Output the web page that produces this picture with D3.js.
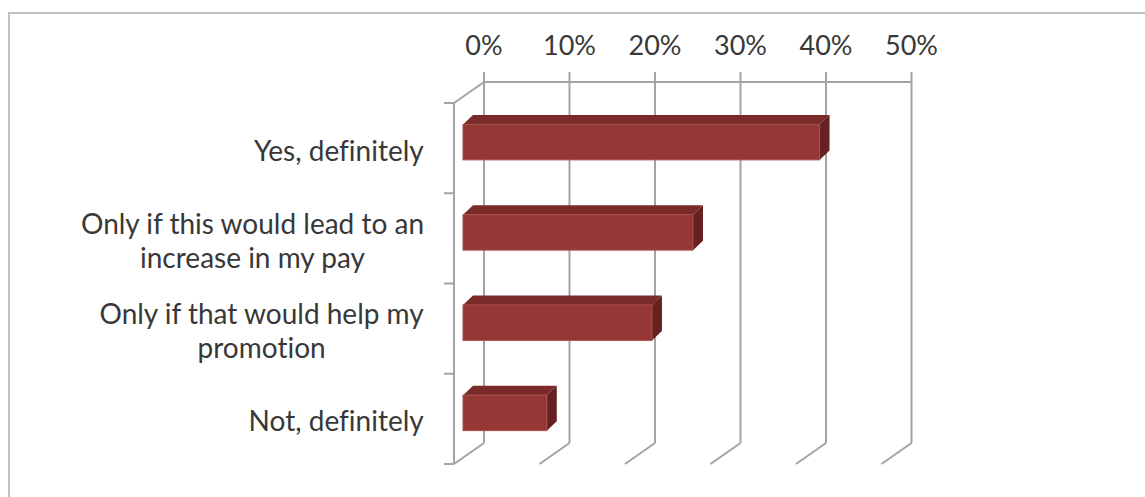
<!DOCTYPE html>
<html>
<head>
<meta charset="utf-8">
<script src="https://cdn.jsdelivr.net/npm/d3@7"></script>
<style>
  html, body { margin: 0; padding: 0; background: #fff; }
  svg { display: block; }
  text { font-family: Lato, "Open Sans", "DejaVu Sans", sans-serif; fill: #383838;
         font-variant-ligatures: none; font-feature-settings: "liga" 0, "clig" 0; }
</style>
</head>
<body>
<svg id="chart" width="1145" height="497"></svg>
<script>
// ---- data ----
const categories = [
  ["Yes, definitely"],
  ["Only if this would lead to an", "increase in my pay"],
  ["Only if that would help my", "promotion"],
  ["Not, definitely"]
];
const values = [41.7, 26.9, 22.1, 9.8];
const tickValues = [0, 10, 20, 30, 40, 50];
const tickLabels = ["0%", "10%", "20%", "30%", "40%", "50%"];

// ---- layout ----
const svg = d3.select("#chart");
const W = 1145, H = 497;

// outer chart border (extends beyond right/bottom edges)
svg.append("rect")
  .attr("x", 9).attr("y", 13)
  .attr("width", W + 20).attr("height", H + 20)
  .attr("fill", "none").attr("stroke", "#c0c0c0").attr("stroke-width", 2);

// 3D geometry
const depthDX = 30, depthDY = -21;         // front -> back wall offset
const backTop = 82, backBottom = 443;
const frontTop = backTop - depthDY, frontBottom = backBottom - depthDY;
const frontX0 = 454;
const backX0 = frontX0 + depthDX;
const pxPer10 = 85.5;

const xBack = d3.scaleLinear().domain([0, 50]).range([backX0, backX0 + 5 * pxPer10]);
const barFront0 = 463;
const xBar = d3.scaleLinear().domain([0, 50]).range([barFront0, barFront0 + 5 * pxPer10]);

const yBand = d3.scaleBand()
  .domain(d3.range(categories.length))
  .range([frontTop, frontBottom]);

const gridColor = "#a3a3a3";

// back-wall gridlines (with small ticks above the top edge)
const grid = svg.append("g");
grid.selectAll("line.v").data(tickValues).enter().append("line")
  .attr("x1", d => xBack(d)).attr("x2", d => xBack(d))
  .attr("y1", backTop - 10).attr("y2", backBottom)
  .attr("stroke", gridColor).attr("stroke-width", 2);
// top edge of back wall
grid.append("line")
  .attr("x1", xBack(0)).attr("x2", xBack(50))
  .attr("y1", backTop).attr("y2", backTop)
  .attr("stroke", gridColor).attr("stroke-width", 2);
// floor diagonals at the bottom
grid.selectAll("line.d").data(tickValues).enter().append("line")
  .attr("x1", d => xBack(d)).attr("y1", backBottom)
  .attr("x2", d => xBack(d) - depthDX).attr("y2", backBottom - depthDY)
  .attr("stroke", gridColor).attr("stroke-width", 2);
// top diagonal of side wall
grid.append("line")
  .attr("x1", xBack(0)).attr("y1", backTop)
  .attr("x2", frontX0).attr("y2", frontTop)
  .attr("stroke", gridColor).attr("stroke-width", 2);
// front category axis
grid.append("line")
  .attr("x1", frontX0).attr("x2", frontX0)
  .attr("y1", frontTop).attr("y2", frontBottom)
  .attr("stroke", gridColor).attr("stroke-width", 2);
// category tick marks
const catTicks = d3.range(categories.length + 1).map(i => frontTop + i * yBand.step());
grid.selectAll("line.ct").data(catTicks).enter().append("line")
  .attr("x1", frontX0 - 10).attr("x2", frontX0)
  .attr("y1", d => d).attr("y2", d => d)
  .attr("stroke", gridColor).attr("stroke-width", 2);

// top value labels
svg.append("g").selectAll("text").data(tickValues).enter().append("text")
  .attr("x", d => xBack(d)).attr("y", 55)
  .attr("text-anchor", "middle")
  .attr("font-size", 27)
  .text((d, i) => tickLabels[i]);

// bars (3D boxes)
const barH = 35.5, bdx = 10, bdy = -9.5;
const barY = i => yBand(i) + yBand.bandwidth() / 2 - 6 - barH / 2;
const bars = svg.append("g");
values.forEach((v, i) => {
  const x0 = xBar(0), x1 = xBar(v), y0 = barY(i), y1 = y0 + barH;
  // top face
  bars.append("path")
    .attr("d", `M${x0},${y0}L${x0 + bdx},${y0 + bdy}L${x1 + bdx},${y0 + bdy}L${x1},${y0}Z`)
    .attr("fill", "#7a2a28");
  // side face
  bars.append("path")
    .attr("d", `M${x1},${y0}L${x1 + bdx},${y0 + bdy}L${x1 + bdx},${y1 + bdy}L${x1},${y1}Z`)
    .attr("fill", "#662221");
  // front face
  bars.append("rect")
    .attr("x", x0).attr("y", y0).attr("width", x1 - x0).attr("height", barH)
    .attr("fill", "#953735").attr("stroke", "#a9504c").attr("stroke-width", 1);
});

// category labels
const lineH = 34;
const labels = svg.append("g");
categories.forEach((lines, i) => {
  const c = yBand(i) + yBand.bandwidth() / 2 + 12.5;
  const n = lines.length;
  const t = labels.append("text")
    .attr("text-anchor", "middle")
    .attr("font-size", 28);
  lines.forEach((s, j) => {
    t.append("tspan").attr("x", 0).attr("y", c + (j - (n - 1) / 2) * lineH).text(s);
  });
  // right-align the block, centre lines within it
  const bw = t.node().getBBox().width;
  t.attr("transform", `translate(${424 - bw / 2},0)`);
});
</script>
</body>
</html>
